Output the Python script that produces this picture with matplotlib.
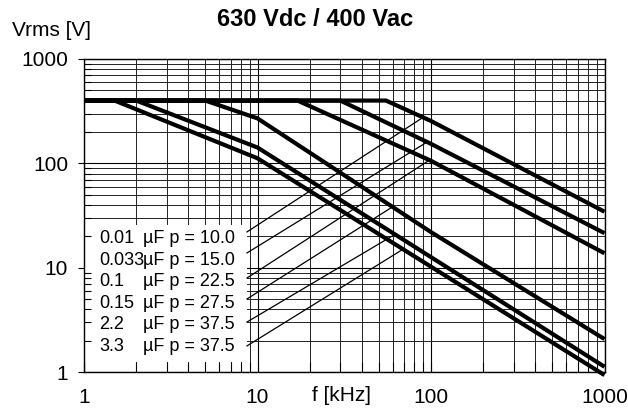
import numpy as np
import matplotlib
matplotlib.use("Agg")
import matplotlib.pyplot as plt
from matplotlib.patches import Rectangle
from matplotlib.ticker import LogLocator, NullFormatter, FixedLocator, FixedFormatter

plt.rcParams['font.family'] = ['Liberation Sans', 'DejaVu Sans']

# ---------------- data ----------------
title = "630 Vdc / 400 Vac"
ylabel = "Vrms [V]"
xlabel = "f [kHz]"

xticks = [1, 10, 100, 1000]
xticklabels = ["1", "10", "100", "1000"]
yticks = [1, 10, 100, 1000]
yticklabels = ["1", "10", "100", "1000"]

cap_values = ["0.01", "0.033", "0.1", "0.15", "2.2", "3.3"]
pitch_labels = ["\u00b5F p = 10.0", "\u00b5F p = 15.0", "\u00b5F p = 22.5",
                "\u00b5F p = 27.5", "\u00b5F p = 37.5", "\u00b5F p = 37.5"]

# curves (frequency kHz, Vrms)
f_a = [1, 55, 100, 1000];        v_a = [400, 400, 255, 34.5]
f_b = [1, 30, 100, 1000];        v_b = [400, 400, 154, 21.5]
f_c = [1, 17, 100, 1000];        v_c = [400, 400, 106, 13.8]
f_d = [1, 5, 10, 100, 1000];     v_d = [400, 400, 270, 22, 2.08]
f_e = [1, 2, 10, 1000];          v_e = [400, 400, 142, 1.13]
f_f = [1, 1.5, 10, 1000];        v_f = [400, 400, 112, 0.94]

# leader lines: start point (legend edge) and frequency where they meet the curve
leader_f0 = 8.7
leader_v0 = [22.1, 13.9, 8.0, 5.04, 3.03, 1.79]
leader_f1 = [90, 95, 98, 60, 62, 69]

curves = [(f_a, v_a), (f_b, v_b), (f_c, v_c), (f_d, v_d), (f_e, v_e), (f_f, v_f)]


def loginterp(f, fs, vs):
    return 10 ** np.interp(np.log10(f), np.log10(fs), np.log10(vs))


# ---------------- figure ----------------
W, H = 628, 412
fig = plt.figure(figsize=(W / 100, H / 100), dpi=100)
rect = [84 / W, 1 - 372.3 / H, (604.5 - 84) / W, (372.3 - 59) / H]
ax = fig.add_axes(rect)
ax.set_xscale('log')
ax.set_yscale('log')
ax.set_xlim(1, 1000)
ax.set_ylim(1, 1000)
ax.set_axisbelow(True)
ax.grid(True, which='major', color='black', lw=0.8)
ax.grid(True, which='minor', color='#222222', lw=0.7)
ax.xaxis.set_minor_locator(LogLocator(base=10, subs=np.arange(2, 10)))
ax.yaxis.set_minor_locator(LogLocator(base=10, subs=np.arange(2, 10)))
ax.tick_params(which='both', length=0, labelbottom=False, labelleft=False)
for s in ax.spines.values():
    s.set_linewidth(1.0)

# white legend box covering the grid
ax.add_patch(Rectangle((0, 0.033), 0.313, 0.437, transform=ax.transAxes,
                       facecolor='white', edgecolor='none', zorder=1))

# leader lines
for v0, f1, (fs, vs) in zip(leader_v0, leader_f1, curves):
    ax.plot([leader_f0, f1], [v0, loginterp(f1, fs, vs)], color='black',
            lw=0.9, zorder=2)

# curves
for fs, vs in curves:
    ax.plot(fs, vs, color='black', lw=3.0, solid_capstyle='butt',
            solid_joinstyle='miter', zorder=3, clip_on=False)

# legend text
ys = 0.4255 - 0.0686 * np.arange(len(cap_values))
for y, c, p in zip(ys, cap_values, pitch_labels):
    ax.text(0.029, y, c, transform=ax.transAxes, fontsize=13, va='center',
            ha='left', zorder=4)
    ax.text(0.113, y, p, transform=ax.transAxes, fontsize=13, va='center',
            ha='left', zorder=4)

# overlay axes for ticks and labels
ax2 = fig.add_axes(rect, frameon=False, zorder=5)
ax2.patch.set_visible(False)
ax2.set_xscale('log')
ax2.set_yscale('log')
ax2.set_xlim(1, 1000)
ax2.set_ylim(1, 1000)
ax2.xaxis.set_major_locator(FixedLocator(xticks))
ax2.xaxis.set_major_formatter(FixedFormatter(xticklabels))
ax2.yaxis.set_major_locator(FixedLocator(yticks))
ax2.yaxis.set_major_formatter(FixedFormatter(yticklabels))
ax2.xaxis.set_minor_locator(LogLocator(base=10, subs=np.arange(2, 10)))
ax2.yaxis.set_minor_locator(LogLocator(base=10, subs=np.arange(2, 10)))
ax2.xaxis.set_minor_formatter(NullFormatter())
ax2.yaxis.set_minor_formatter(NullFormatter())
ax2.tick_params(axis='x', which='both', direction='in', length=7, width=0.8,
                labelsize=15, pad=11)
ax2.tick_params(axis='y', which='major', direction='out', length=4.5, width=0.8,
                labelsize=15, pad=7)
ax2.tick_params(axis='y', which='minor', direction='in', length=5, width=0.8)

fig.text(315 / W, 1 - 20 / H, title, fontsize=17, fontweight='bold',
         ha='center', va='center')
fig.text(12 / W, 1 - 31 / H, ylabel, fontsize=15, ha='left', va='center')
fig.text(342 / W, 1 - 395.5 / H, xlabel, fontsize=15, ha='center', va='center')

fig.savefig('out.png', dpi=100)
